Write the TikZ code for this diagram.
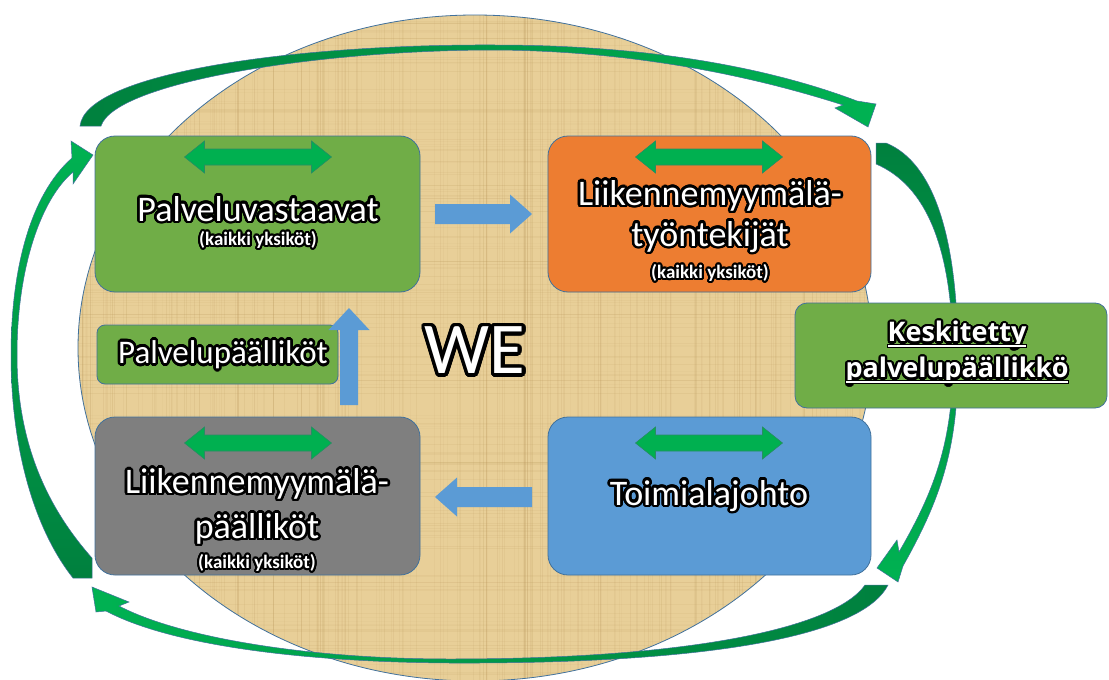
\documentclass[tikz,border=0pt]{standalone}
\usepackage{fontspec}
\setmainfont{Carlito}
\newfontfamily\kpfont{Open Sans}
\usepackage{contour}
\contourlength{2.6pt}
\contournumber{24}
\usetikzlibrary{calc}

\definecolor{papyrus}{RGB}{232,207,152}
\definecolor{papyrusline}{RGB}{185,150,90}
\definecolor{rimline}{RGB}{65,113,156}
\definecolor{boxgreen}{RGB}{112,173,71}
\definecolor{boxorange}{RGB}{237,125,49}
\definecolor{boxgray}{RGB}{127,127,127}
\definecolor{boxblue}{RGB}{91,155,213}
\definecolor{flowblue}{RGB}{91,155,213}
\definecolor{tailgreen}{RGB}{0,128,62}
\definecolor{headgreen}{RGB}{0,178,82}
\definecolor{dblgreen}{RGB}{0,176,80}
\definecolor{dblline}{RGB}{40,140,100}

\tikzset{
  box/.style={draw=rimline, line width=0.8pt, rounded corners=20pt, inner sep=0pt},
  title/.style={text=white, font=\fontsize{36}{40}\selectfont, inner sep=0pt},
  sub/.style={text=white, font=\bfseries\fontsize{19}{22}\selectfont, inner sep=0pt},
  kptext/.style={text=white, font=\kpfont\bfseries\fontsize{27}{30}\selectfont, inner sep=0pt},
  dbl/.style={fill=dblgreen, draw=dblline, line width=0.6pt},
  flow/.style={fill=flowblue},
  loop/.style={draw=rimline, line width=0.5pt},
  ulblack/.style={draw=black, line width=4.5pt},
  ulwhite/.style={draw=white, line width=2pt},
  pics/dblarrow/.style={code={
    \path[dbl] (-73.5,0) -- (-53.5,-16) -- (-53.5,-8) -- (53.5,-8) -- (53.5,-16)
      -- (73.5,0) -- (53.5,16) -- (53.5,8) -- (-53.5,8) -- (-53.5,16) -- cycle;}}
}

\begin{document}
\begin{tikzpicture}[x=1pt,y=-1pt]
\useasboundingbox[fill=white] (0,0) rectangle (1109,680);

% papyrus disc
\fill[papyrus] (475,348) ellipse [x radius=397, y radius=333];
\begin{scope}
  \clip (475,348) ellipse [x radius=397, y radius=333];
  \pgfmathsetseed{11}
  \foreach \i in {1,...,240}{
    \pgfmathsetmacro\xx{78+794*rnd}
    \pgfmathsetmacro\op{0.05+0.12*rnd}
    \draw[papyrusline, opacity=\op, line width=0.8pt] (\xx,15) -- (\xx,681);
  }
  \foreach \i in {1,...,160}{
    \pgfmathsetmacro\yy{15+666*rnd}
    \pgfmathsetmacro\op{0.04+0.10*rnd}
    \draw[papyrusline, opacity=\op, line width=0.8pt] (78,\yy) -- (872,\yy);
  }
\end{scope}
\draw[rimline, line width=0.8pt] (475,348) ellipse [x radius=397, y radius=333];

% the four curved arrows running round the disc
\path[loop, left color=tailgreen, right color=headgreen]
  (80,126) .. controls (86,72) and (300,44) .. (495,45)
  .. controls (650,45) and (770,68) .. (857,101)
  -- (876,104) -- (868,127) -- (835,108) -- (843,105)
  .. controls (765,80) and (645,51) .. (495,50)
  .. controls (320,50) and (115,82) .. (101,126) -- cycle;

\path[loop, top color=tailgreen, bottom color=headgreen]
  (876,143) -- (886,143) .. controls (935,163) and (958,240) .. (958,360)
  .. controls (958,450) and (940,500) .. (903,566)
  -- (898,582) -- (877,568) -- (897,540) -- (899,552)
  .. controls (932,495) and (953,445) .. (953,360)
  .. controls (953,245) and (925,185) .. (876,164) -- cycle;

\path[loop, right color=tailgreen, left color=headgreen]
  (865,585) -- (888,585) .. controls (860,640) and (690,664) .. (450,663)
  .. controls (300,662) and (170,645) .. (106,611)
  -- (96,612) -- (92,587) -- (129,602) -- (119,606)
  .. controls (180,638) and (310,659) .. (450,659)
  .. controls (690,659) and (835,628) .. (865,585) -- cycle;

\path[loop, bottom color=tailgreen, top color=headgreen]
  (73,578) -- (92,578) -- (92,558)
  .. controls (45,505) and (17,440) .. (17,355)
  .. controls (17,270) and (40,200) .. (73,172)
  -- (73,184) -- (93,155) -- (71,141) -- (72,158)
  .. controls (30,195) and (11,270) .. (11,355)
  .. controls (11,450) and (35,530) .. (73,578) -- cycle;

% boxes
\node[box, fill=boxgreen, minimum width=325pt, minimum height=156pt] (pv) at (257.5,214) {};
\node[box, fill=boxorange, minimum width=323pt, minimum height=156pt] (lt) at (709.5,214) {};
\node[box, fill=boxgray, minimum width=325pt, minimum height=158pt] (lp) at (257.5,496) {};
\node[box, fill=boxblue, minimum width=323pt, minimum height=158pt] (tj) at (709.5,496) {};
\node[box, fill=boxgreen, rounded corners=8pt, minimum width=241pt, minimum height=59pt] (pp) at (217.5,354.5) {};
\node[box, fill=boxgreen, rounded corners=12pt, minimum width=312pt, minimum height=105pt] (kp) at (951,355.5) {};

% two-way arrows inside the four boxes
\pic (pvd) at (258,157) {dblarrow};
\pic (ltd) at (709,157) {dblarrow};
\pic (lpd) at (258,443) {dblarrow};
\pic (tjd) at (709,443) {dblarrow};

% flow arrows between the boxes
\path[flow] (435,204) -- (510,204) -- (510,194.5) -- (532,214) -- (510,233.5) -- (510,224) -- (435,224) -- cycle;
\path[flow] (532,487) -- (457,487) -- (457,477.5) -- (435,497) -- (457,516.5) -- (457,507) -- (532,507) -- cycle;
\path[flow] (340,405) -- (340,330) -- (328.5,330) -- (349,308) -- (369.5,330) -- (358,330) -- (358,405) -- cycle;

% labels
\node[title] (pv1) at (258,210) {\contour{black}{Palveluvastaavat}};
\node[sub]   (pv2) at (258,241) {\contourlength{2pt}\contour{black}{(kaikki yksiköt)}};

\node[title] (lt1) at (710,197) {\contour{black}{Liikennemyymälä-}};
\node[title] (lt2) at (710,238) {\contour{black}{työntekijät}};
\node[sub]   (lt3) at (710,274) {\contourlength{2pt}\contour{black}{(kaikki yksiköt)}};

\node[title] (lp1) at (257,485) {\contour{black}{Liikennemyymälä-}};
\node[title] (lp2) at (257,530) {\contour{black}{päälliköt}};
\node[sub]   (lp3) at (257,564) {\contourlength{2pt}\contour{black}{(kaikki yksiköt)}};

\node[title] (tj1) at (709,497) {\contour{black}{Toimialajohto}};

\node[title, font=\fontsize{33}{36}\selectfont] (pp1) at (223,356) {\contour{black}{Palvelupäälliköt}};

\node[text=white, font=\fontsize{73}{80}\selectfont, inner sep=0pt] (we) at (475,352)
  {\contourlength{3.5pt}\contour{black}{WE}};

\node[kptext] (kp1) at (957,336) {\contourlength{2.2pt}\contour{black}{Keskitetty}};
\node[kptext] (kp2) at (957,372) {\contourlength{2.2pt}\contour{black}{palvelupäällikkö}};
\draw[ulblack] ($(kp1.base west)+(0,4)$) -- ($(kp1.base east)+(0,4)$);
\draw[ulwhite] ($(kp1.base west)+(1,4)$) -- ($(kp1.base east)+(-1,4)$);
\draw[ulblack] ($(kp2.base west)+(0,4)$) -- ($(kp2.base east)+(0,4)$);
\draw[ulwhite] ($(kp2.base west)+(1,4)$) -- ($(kp2.base east)+(-1,4)$);
\end{tikzpicture}
\end{document}
